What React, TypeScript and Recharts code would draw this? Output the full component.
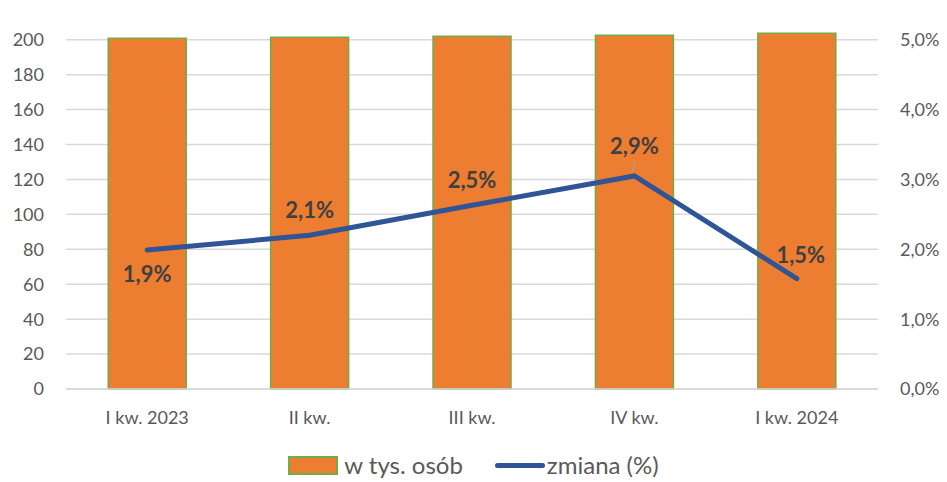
import {
    ComposedChart, Bar, Line, XAxis, YAxis, CartesianGrid, Legend, LabelList,
} from 'recharts';

const QUARTERS = ['I kw. 2023', 'II kw.', 'III kw.', 'IV kw.', 'I kw. 2024'];
// w tys. osób (bars, left axis)
const PEOPLE = [200.9, 201.4, 202.0, 202.6, 203.7];
// zmiana (%) as drawn (right axis)
const CHANGE = [1.99, 2.2, 2.63, 3.05, 1.58];
// data labels as printed on the chart
const CHANGE_LABELS = ['1,9%', '2,1%', '2,5%', '2,9%', '1,5%'];
// where each label sits relative to its point
const LABEL_SIDE = ['below', 'above', 'above', 'above', 'right'];

const LEFT_TICKS = [0, 20, 40, 60, 80, 100, 120, 140, 160, 180, 200];
const RIGHT_TICKS = [0, 1, 2, 3, 4, 5];
// a little headroom above the top gridline so the bars can poke over 200
const LEFT_MAX = 205;
const RIGHT_MAX = 5.125;

const ORANGE = '#ED7D31';
const GREEN = '#70AD47';
const BLUE = '#2F5597';
const FONT = 'Lato, "Open Sans", sans-serif';

const data = QUARTERS.map((q, i) => ({
    q, people: PEOPLE[i], change: CHANGE[i],
}));

function ChangeLabel(props: any) {
    const { x, y, index } = props;
    const side = LABEL_SIDE[index];
    let dx = 0, dy = 0;
    if (side === 'below') dy = 24;
    else if (side === 'above') dy = index === 3 ? -30 : -26;
    else { dx = 4; dy = -24; }
    return (
        <g>
            {index === 3 && (
                <line x1={x - 2} y1={y - 5} x2={x + 1} y2={y - 15} stroke="#A5A5A5" strokeWidth={1} />
            )}
            <text
                x={x + dx}
                y={y + dy}
                textAnchor="middle"
                dominantBaseline="central"
                fontFamily={FONT}
                fontWeight={700}
                fontSize={22}
                fill="#404040"
            >
                {CHANGE_LABELS[index]}
            </text>
        </g>
    );
}

function LegendBox() {
    return (
        <div style={{ display: 'flex', justifyContent: 'center', alignItems: 'center', boxSizing: 'border-box', height: 43, paddingTop: 9, fontFamily: FONT, fontSize: 24, lineHeight: '26px', color: '#595959' }}>
            <span style={{ display: 'inline-block', width: 46, height: 15, background: ORANGE, border: `2px solid ${GREEN}`, marginRight: 6 }} />
            <span style={{ marginRight: 32 }}>w tys. osób</span>
            <span style={{ display: 'inline-block', width: 50, height: 5, background: BLUE, borderRadius: 3, marginRight: 2 }} />
            <span>zmiana (%)</span>
        </div>
    );
}

export default function App() {
    const tick = { fontSize: 18, fill: '#595959', fontFamily: FONT };
    return (
        <div style={{ position: 'absolute', top: 0, left: 0, width: 947, height: 482, background: '#fff' }}>
            <ComposedChart
                width={947}
                height={482}
                data={data}
                margin={{ top: 31, right: 0, left: 0, bottom: 0 }}
                barCategoryGap="26%"
            >
                <CartesianGrid
                    stroke="#D9D9D9"
                    strokeWidth={1.5}
                    vertical={false}
                    yAxisId="left"
                    syncWithTicks
                />
                <XAxis
                    dataKey="q"
                    tick={tick}
                    tickLine={false}
                    axisLine={{ stroke: '#D9D9D9', strokeWidth: 1.5 }}
                    tickSize={0}
                    tickMargin={22}
                    height={50}
                />
                <YAxis
                    yAxisId="left"
                    domain={[0, LEFT_MAX]}
                    ticks={LEFT_TICKS}
                    tick={tick}
                    tickLine={false}
                    axisLine={false}
                    tickSize={0}
                    tickMargin={22}
                    width={66}
                />
                <YAxis
                    yAxisId="right"
                    orientation="right"
                    domain={[0, RIGHT_MAX]}
                    ticks={RIGHT_TICKS}
                    tickFormatter={(v: number) => `${v.toFixed(1).replace('.', ',')}%`}
                    tick={{ ...tick, textAnchor: 'start' }}
                    tickLine={false}
                    axisLine={false}
                    tickSize={0}
                    tickMargin={22}
                    width={69}
                />
                <Legend
                    verticalAlign="bottom"
                    height={43}
                    wrapperStyle={{ overflow: 'visible' }}
                    content={<LegendBox />}
                />
                <Bar
                    yAxisId="left"
                    dataKey="people"
                    name="w tys. osób"
                    fill={ORANGE}
                    stroke={GREEN}
                    strokeWidth={1.5}
                    isAnimationActive={false}
                />
                <Line
                    yAxisId="right"
                    dataKey="change"
                    name="zmiana (%)"
                    type="linear"
                    stroke={BLUE}
                    strokeWidth={5}
                    strokeLinecap="round"
                    dot={false}
                    activeDot={false}
                    isAnimationActive={false}
                >
                    <LabelList dataKey="change" content={<ChangeLabel />} />
                </Line>
            </ComposedChart>
        </div>
    );
}
